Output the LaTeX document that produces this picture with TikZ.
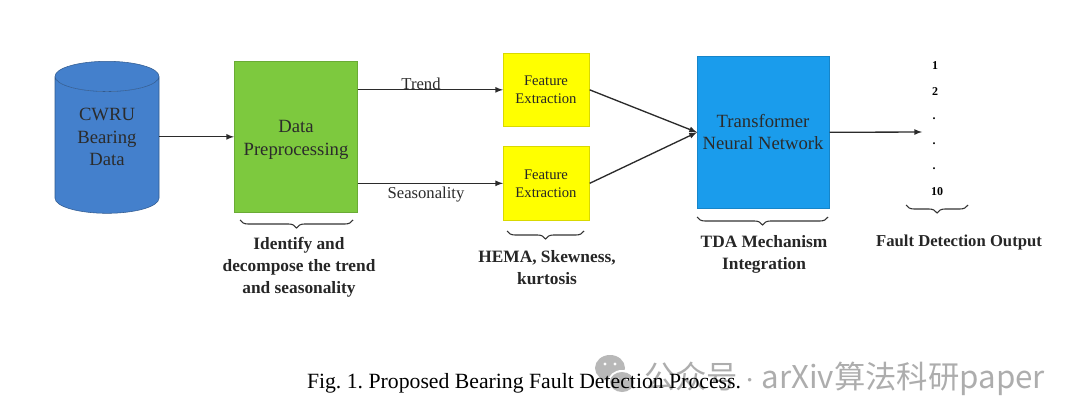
\documentclass[tikz,border=0pt]{standalone}
\usepackage{fontspec}
\setmainfont{Liberation Serif}
\newfontfamily\cjkmark{Noto Sans CJK SC}
\usetikzlibrary{shapes.geometric,decorations.pathreplacing}
\definecolor{cylblue}{HTML}{4480CC}
\definecolor{prepgreen}{HTML}{7DC93E}
\definecolor{featyellow}{HTML}{FFFF00}
\definecolor{netblue}{HTML}{1A9CEC}
\definecolor{inkgrey}{HTML}{2B2B2B}
\tikzset{
	bigtext/.style={font=\fontsize{14pt}{17pt}\selectfont,align=center,text=inkgrey},
	smalltext/.style={font=\fontsize{11pt}{13.5pt}\selectfont,align=center,text=black!85},
	flowbox/.style={draw=#1!85!black,fill=#1,line width=0.5pt,inner sep=0pt,anchor=north west},
	edgetext/.style={font=\fontsize{12.5pt}{14pt}\selectfont,text=inkgrey,inner sep=0pt},
	boldtext/.style={font=\bfseries\fontsize{13pt}{16.4pt}\selectfont,align=center,text=black!85,inner sep=0pt},
	outnum/.style={font=\bfseries\fontsize{9pt}{10pt}\selectfont,inner sep=0pt},
	flow/.style={draw=inkgrey,line width=1pt,-latex},
	curly/.style={draw=black!80,line width=0.8pt,decorate,decoration={brace,mirror,amplitude=6pt}}
}
\begin{document}
\frenchspacing
\begin{tikzpicture}[x=0.75pt,y=-0.75pt]
	\useasboundingbox (0,0) rectangle (1080,420);
	\fill[black!28] (610,368) ellipse (15 and 13);
	\fill[white] (622,382) ellipse (14 and 12);
	\fill[black!28] (622,382) ellipse (12 and 10);
	\fill[white] (605,364) circle (1.6) (615,364) circle (1.6) (618,379) circle (1.3) (627,379) circle (1.3);
	\node[font=\cjkmark\fontsize{23.5pt}{25pt}\selectfont,text=black!32,inner sep=0pt,anchor=west] (mark) at (644,379) {公众号 $\cdot$ arXiv算法科研paper};
	\node[font=\fontsize{16.3pt}{18pt}\selectfont,inner sep=0pt] (caption) at (524,383) {Fig. 1. Proposed Bearing Fault Detection Process.};

	\node[bigtext,cylinder,shape border rotate=90,shape aspect=0.54,draw=cylblue!70!black,line width=0.4pt,
		cylinder uses custom fill,cylinder body fill=cylblue,cylinder end fill=cylblue,
		minimum width=78pt,minimum height=114pt,inner sep=0pt] (cwru) at (107,145) {\phantom{CWRU}};
	\node[bigtext] (cwrutext) at (107,137) {CWRU\\Bearing\\Data};

	\node[flowbox=prepgreen,minimum width=92.25pt,minimum height=113.25pt] (prep) at (234,61) {};
	\node[bigtext] (preptext) at (296,140) {Data\\Preprocessing};

	\node[flowbox=featyellow,minimum width=64.5pt,minimum height=54.75pt] (feat1) at (503,53) {};
	\node[smalltext] (feat1text) at (546,90) {Feature\\Extraction};
	\node[flowbox=featyellow,minimum width=64.5pt,minimum height=55.5pt] (feat2) at (503,146) {};
	\node[smalltext] (feat2text) at (546,184) {Feature\\Extraction};

	\node[flowbox=netblue,minimum width=99pt,minimum height=114pt] (net) at (697,56) {};
	\node[bigtext] (nettext) at (763,132) {Transformer\\Neural Network};

	\node[outnum] (out1) at (935,66) {1};
	\node[outnum] (out2) at (935,92) {2};
	\node[outnum] (out3) at (934,119) {.};
	\node[outnum] (out4) at (934,144) {.};
	\node[outnum] (out5) at (934,169) {.};
	\node[outnum] (out6) at (937,192) {10};
	\coordinate (outend) at (922,132);

	\draw[flow] (prep.west -| cwru.east) -- (prep.west);
	\draw[flow] (feat1.west -| prep.east) -- (feat1.west);
	\draw[flow] (feat2.west -| prep.east) -- (feat2.west);
	\draw[flow] (feat1.east) -- (net.west);
	\draw[flow] (feat2.east) -- (net.west);
	\draw[flow] (net.east) -- (outend);

	\node[edgetext] (trendlabel) at (421,84) {Trend};
	\node[edgetext] (seaslabel) at (426,195) {Seasonality};

	\coordinate (brace1a) at (240,220);
	\coordinate (brace1b) at (353,220);
	\coordinate (brace2a) at (507,231);
	\coordinate (brace2b) at (584,231);
	\coordinate (brace3a) at (697,217);
	\coordinate (brace3b) at (828,217);
	\coordinate (brace4a) at (906,205);
	\coordinate (brace4b) at (968,205);
	\draw[curly] (brace1a) -- (brace1b);
	\draw[curly] (brace2a) -- (brace2b);
	\draw[curly] (brace3a) -- (brace3b);
	\draw[curly] (brace4a) -- (brace4b);

	\node[boldtext] (prepnote) at (299,267) {Identify and\\decompose the trend\\and seasonality};
	\node[boldtext] (featnote) at (547,268) {HEMA, Skewness,\\kurtosis};
	\node[boldtext] (netnote) at (764,254) {TDA Mechanism\\Integration};
	\node[boldtext,font=\bfseries\fontsize{12.5pt}{16pt}\selectfont] (outnote) at (959,242) {Fault Detection Output};
\end{tikzpicture}
\end{document}
